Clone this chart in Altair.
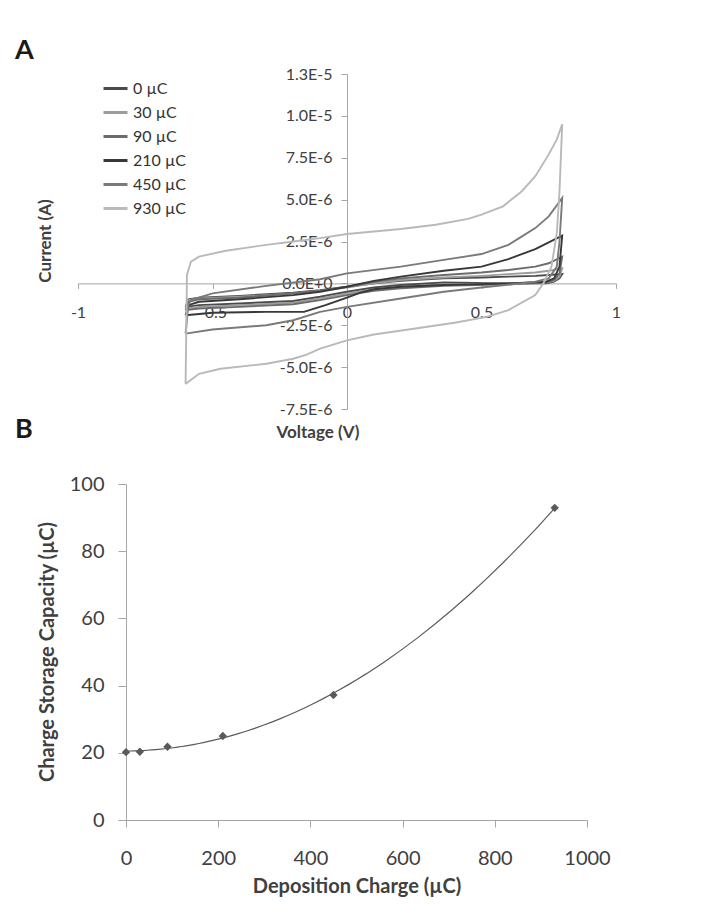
import json
import altair as alt
import pandas as pd

# ---------------- Panel A: cyclic voltammograms (current in µA) ----------------
series_labels = ["0 µC", "30 µC", "90 µC", "210 µC", "450 µC", "930 µC"]
series_colors = ["#4a4a4a", "#9c9c9c", "#6c6c6c", "#383838", "#7a7a7a", "#b9b9b9"]

v_0 = [-0.6, -0.59, -0.55, -0.4, -0.2, -0.1, 0.0, 0.1, 0.2, 0.36, 0.5, 0.6, 0.7, 0.75, 0.8,
       0.79, 0.77, 0.74, 0.6, 0.36, 0.2, 0.1, 0.0, -0.1, -0.2, -0.4, -0.55, -0.6]
i_0 = [-1.4, -0.95, -0.85, -0.75, -0.55, -0.4, -0.2, 0.0, 0.15, 0.3, 0.35, 0.4, 0.45, 0.5, 0.55,
       0.3, 0.1, 0.0, 0.0, 0.05, -0.1, -0.25, -0.5, -0.8, -1.05, -1.2, -1.3, -1.4]

v_30 = [-0.6, -0.59, -0.55, -0.4, -0.2, -0.1, 0.0, 0.1, 0.2, 0.36, 0.5, 0.6, 0.7, 0.75, 0.8,
        0.79, 0.77, 0.74, 0.6, 0.36, 0.2, 0.1, 0.0, -0.1, -0.2, -0.4, -0.55, -0.6]
i_30 = [-1.5, -1.0, -0.9, -0.8, -0.6, -0.45, -0.25, 0.0, 0.2, 0.35, 0.45, 0.55, 0.65, 0.75, 0.9,
        0.4, 0.15, 0.05, 0.0, -0.05, -0.2, -0.35, -0.6, -0.9, -1.15, -1.3, -1.4, -1.5]

v_90 = [-0.6, -0.59, -0.55, -0.4, -0.2, -0.1, 0.0, 0.1, 0.2, 0.36, 0.5, 0.6, 0.7, 0.75, 0.8,
        0.79, 0.77, 0.74, 0.6, 0.36, 0.2, 0.1, 0.0, -0.1, -0.2, -0.4, -0.55, -0.6]
i_90 = [-1.6, -1.1, -0.95, -0.85, -0.6, -0.45, -0.2, 0.1, 0.3, 0.5, 0.65, 0.8, 1.0, 1.2, 1.6,
        0.6, 0.2, 0.05, -0.05, -0.15, -0.3, -0.45, -0.7, -1.0, -1.25, -1.4, -1.5, -1.6]

v_210 = [-0.6, -0.59, -0.55, -0.4, -0.2, -0.1, 0.0, 0.1, 0.2, 0.36, 0.5, 0.6, 0.7, 0.75, 0.8,
         0.79, 0.77, 0.74, 0.6, 0.36, 0.2, 0.1, 0.05, 0.0, -0.08, -0.16, -0.3, -0.5, -0.6]
i_210 = [-1.9, -1.3, -1.1, -0.95, -0.7, -0.5, -0.2, 0.15, 0.4, 0.75, 1.0, 1.45, 2.05, 2.45, 2.85,
         1.0, 0.3, 0.1, 0.0, -0.1, -0.2, -0.35, -0.55, -0.85, -1.3, -1.7, -1.7, -1.75, -1.9]

v_450 = [-0.6, -0.59, -0.58, -0.5, -0.3, -0.1, 0.0, 0.2, 0.36, 0.5, 0.6, 0.64, 0.7, 0.75, 0.8,
         0.79, 0.78, 0.75, 0.7, 0.5, 0.36, 0.2, 0.0, -0.1, -0.2, -0.3, -0.5, -0.6]
i_450 = [-3.0, -1.3, -1.0, -0.6, -0.15, 0.25, 0.6, 1.0, 1.4, 1.75, 2.3, 2.7, 3.3, 4.0, 5.1,
         2.5, 1.0, 0.3, 0.1, -0.25, -0.5, -0.9, -1.4, -1.7, -2.2, -2.5, -2.75, -3.0]

v_930 = [-0.6, -0.595, -0.58, -0.55, -0.45, -0.3, -0.2, -0.1, 0.0, 0.1, 0.2, 0.33, 0.45, 0.5, 0.58,
         0.65, 0.7, 0.75, 0.78, 0.8,
         0.79, 0.78, 0.76, 0.73, 0.7, 0.6, 0.52, 0.4, 0.21, 0.1, 0.0, -0.1, -0.15, -0.2, -0.3,
         -0.47, -0.55, -0.6]
i_930 = [-6.0, 0.5, 1.3, 1.6, 1.95, 2.3, 2.5, 2.7, 2.95, 3.1, 3.25, 3.5, 3.85, 4.1, 4.6,
         5.5, 6.4, 7.7, 8.6, 9.5,
         5.5, 3.0, 1.0, 0.0, -0.7, -1.6, -2.0, -2.35, -2.8, -3.05, -3.4, -3.9, -4.25, -4.5, -4.8,
         -5.1, -5.4, -6.0]

cv_series = [v_0, v_30, v_90, v_210, v_450, v_930]
cv_currents = [i_0, i_30, i_90, i_210, i_450, i_930]

x_ticks_a = [-1, -0.5, 0, 0.5, 1]
x_labels_a = ["-1", "-0.5", "0", "0.5", "1"]
y_ticks_a = [-7.5, -5.0, -2.5, 0.0, 2.5, 5.0, 7.5, 10.0, 12.5]
y_labels_a = ["-7.5E-6", "-5.0E-6", "-2.5E-6", "0.0E+0", "2.5E-6", "5.0E-6", "7.5E-6", "1.0E-5", "1.3E-5"]

# ---------------- Panel B: charge storage capacity ----------------
deposition = [0, 30, 90, 210, 450, 930]
capacity = [20.2, 20.3, 21.8, 25.0, 37.2, 92.9]
x_ticks_b = [0, 200, 400, 600, 800, 1000]
y_ticks_b = [0, 20, 40, 60, 80, 100]

FONT = "Lato"
AXIS_GRAY = "#a6a6a6"
TEXT = "#404040"

rows = []
for lab, vs, cs in zip(series_labels, cv_series, cv_currents):
    for k, (v, c) in enumerate(zip(vs, cs)):
        rows.append({"series": lab, "v": v, "i": c, "idx": k})
cv_df = pd.DataFrame(rows)

W1, H1 = 538, 335
x_lab_expr = json.dumps(x_labels_a) + "[round(datum.value*2)+2]"
y_lab_expr = json.dumps(y_labels_a) + "[round(datum.value/2.5)+3]"

lines = alt.Chart(cv_df).mark_line(strokeWidth=1.9).encode(
    x=alt.X("v:Q", scale=alt.Scale(domain=[-1, 1], nice=False, zero=False),
            axis=alt.Axis(values=x_ticks_a, labelExpr=x_lab_expr, title=None, grid=False,
                          offset=-(H1 - H1 * 12.5 / 20.0), tickSize=5, labelPadding=16,
                          domainColor=AXIS_GRAY, tickColor=AXIS_GRAY, labelColor=TEXT,
                          labelFont=FONT, labelFontSize=16, labelFlush=False)),
    y=alt.Y("i:Q", scale=alt.Scale(domain=[-7.5, 12.5], nice=False, zero=False),
            axis=alt.Axis(values=y_ticks_a, labelExpr=y_lab_expr, title=None, grid=False,
                          offset=-W1 / 2, tickSize=6, labelPadding=9,
                          domainColor=AXIS_GRAY, tickColor=AXIS_GRAY, labelColor=TEXT,
                          labelFont=FONT, labelFontSize=16, labelFlush=False)),
    color=alt.Color("series:N", scale=alt.Scale(domain=series_labels, range=series_colors),
                    legend=alt.Legend(title=None, orient="none", legendX=24, legendY=1,
                                      symbolType="stroke", symbolSize=576, symbolStrokeWidth=3,
                                      labelFont=FONT, labelFontSize=16, labelColor="#333333",
                                      rowPadding=2, padding=0, labelOffset=4)),
    order=alt.Order("idx:Q"),
)

def label(text, x, y, size, angle=0, color="#1f1f1f"):
    return alt.Chart(pd.DataFrame({"t": [text]})).mark_text(
        font=FONT, fontSize=size, fontWeight="bold", color=color, align="center",
        baseline="middle", angle=angle,
    ).encode(text="t:N", x=alt.value(x), y=alt.value(y))

lab_a = alt.Chart(pd.DataFrame({"t": ["A"]})).mark_text(
    font=FONT, fontSize=27, fontWeight="bold", color="#1a1a1a", align="left", baseline="middle"
).encode(text="t:N", x=alt.value(-63), y=alt.value(-23))
lab_b = alt.Chart(pd.DataFrame({"t": ["B"]})).mark_text(
    font=FONT, fontSize=27, fontWeight="bold", color="#1a1a1a", align="left", baseline="middle"
).encode(text="t:N", x=alt.value(-63), y=alt.value(356))
lab_cur = label("Current (A)", -32, 167, 17, angle=270, color=TEXT)
lab_volt = label("Voltage (V)", 240, 359, 17, color=TEXT)

top = alt.layer(lines, lab_a, lab_b, lab_cur, lab_volt).properties(width=W1, height=H1)

# bottom panel
pts_df = pd.DataFrame({"dep": deposition, "css": capacity})
W2, H2 = 509, 336
SHIFT = 48

xb = alt.X("dep:Q", scale=alt.Scale(domain=[0, 1000], range=[SHIFT, W2], nice=False, zero=False),
           axis=alt.Axis(values=x_ticks_b, format="d", title="Deposition Charge (µC)", grid=False,
                         tickSize=7, labelPadding=21, domainColor=AXIS_GRAY, tickColor=AXIS_GRAY,
                         labelColor=TEXT, labelFont=FONT, labelFontSize=20, titleFont=FONT,
                         titleFontSize=20, titleFontWeight="bold", titleColor=TEXT,
                         titlePadding=8, labelFlush=False, titleLimit=600))
yb = alt.Y("css:Q", scale=alt.Scale(domain=[0, 100], nice=False),
           axis=alt.Axis(values=y_ticks_b, format="d", title=None,
                         grid=False, offset=-SHIFT, tickSize=8, labelPadding=14,
                         domainColor=AXIS_GRAY, tickColor=AXIS_GRAY, labelColor=TEXT,
                         labelFont=FONT, labelFontSize=20, labelFlush=False))

fit = alt.Chart(pts_df).transform_regression(
    "dep", "css", method="poly", order=2, extent=[0, 930]
).mark_line(color="#5a5a5a", strokeWidth=1.2).encode(x=xb, y=yb)
pts = alt.Chart(pts_df).mark_point(shape="diamond", filled=True, size=70, color="#5a5a5a",
                                   opacity=1).encode(x=xb, y=yb)
lab_css = label("Charge Storage Capacity (µC)", -30, H2 / 2, 20, angle=270, color=TEXT)

bottom = alt.layer(fit, pts, lab_css).properties(width=W2, height=H2)

chart = alt.vconcat(top, bottom, spacing=31).properties(
    padding={"left": 7, "top": 29, "right": 5, "bottom": 5}
).configure(font=FONT, background="white").configure_view(stroke=None, strokeWidth=0)

chart.save("out.html", embed_options={"renderer": "svg", "actions": False})
